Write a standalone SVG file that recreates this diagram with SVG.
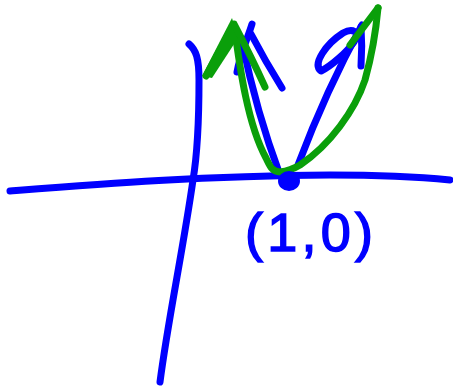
<svg xmlns="http://www.w3.org/2000/svg" width="453" height="386" viewBox="0 0 453 386">
  <style>
    .b { fill: none; stroke: #0000ff; stroke-width: 7; stroke-linecap: round; stroke-linejoin: round; }
    .g { fill: none; stroke: #0a9f0a; stroke-width: 7; stroke-linecap: round; stroke-linejoin: round; }
    .lbl { font-family: "Liberation Sans", Arial, sans-serif; font-size: 54px; fill: #0000ff; stroke: #0000ff; stroke-width: 1.5; }
  </style>
  <rect width="453" height="386" fill="#ffffff"/>
  <g id="axes">
    <path class="b" d="M10,191 C100,184 200,176 330,175 C380,175 420,177 450,180"/>
    <path class="b" d="M189,44 C196,50 199,58 199,80 C199,120 198,150 193,180 C183,250 168,320 160,382"/>
  </g>
  <g id="blue-v">
    <path class="b" d="M242,42 C252,90 265,135 280,175"/>
    <path class="b" d="M252,24 C247,40 240,55 237,72"/>
    <path class="b" d="M251,34 C262,55 272,72 282,88"/>
    <path class="b" d="M298,165 C315,120 340,65 362,25"/>
    <path class="b" d="M321,71 C312,64 326,44 343,33 C352,28 361,31 354,42 C346,53 331,66 321,71 Z"/>
    <path class="b" d="M361,27 C362,40 362,52 361,66"/>
  </g>
  <g id="green-curve">
    <path class="g" d="M234,24 C240,70 248,125 266,158 C270,166 272,172 280,172 C288,171 295,168 300,165 C330,145 355,110 365,80 C372,55 376,30 378,8"/>
    <path class="g" stroke-width="9" d="M206,76 L233,26"/>
    <path d="M202,76 L232,18 L238,38 L212,78 Z" fill="#0a9f0a"/>
    <path class="g" d="M235,26 C245,45 255,65 265,87"/>
    <path class="g" d="M350,45 L378,8"/>
  </g>
  <g id="point">
    <ellipse cx="289" cy="181" rx="11" ry="10" fill="#0000ff"/>
    <text class="lbl" x="245" y="251" textLength="128" lengthAdjust="spacing">(1,0)</text>
  </g>
</svg>
